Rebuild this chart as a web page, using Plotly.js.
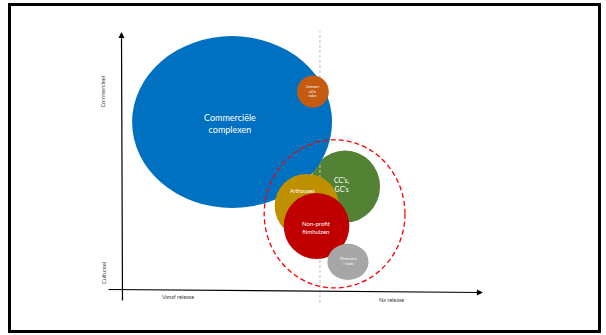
<!DOCTYPE html>
<html>
<head>
<meta charset="utf-8">
<script src="https://cdn.plot.ly/plotly-3.0.1.min.js"></script>
<style>
  html, body { margin: 0; padding: 0; background: #ffffff; }
  #chart { width: 606px; height: 335px; }
</style>
</head>
<body>
<div id="chart"></div>
<script>
// positie op de as: x = 0 (vanaf release) .. 100 (na release), y = 0 (cultureel) .. 100 (commercieel)
const names = ['Commerciële<br>complexen', 'Commer<br>ciële<br>zalen', "CC's,<br>GC's", 'Arthouses', 'Non-profit<br>filmhuizen', 'Filmhuizen<br>/ clubs'];
const xCenter = [30.5, 52.9, 61.8, 51.2, 53.9, 62.6];
const yCenter = [65.1, 76.9, 40.1, 32.6, 24.8, 10.9];
const xRadius = [27.7, 4.4, 9.7, 8.9, 9.1, 5.7];
const yRadius = [33.3, 6.2, 14.0, 12.4, 12.8, 7.0];
const labelX = [29.8, 52.9, 60.9, 50.1, 53.9, 62.8];
const labelY = [64.7, 76.9, 40.7, 38.4, 24.4, 10.9];

// groep non-profit (rode stippellijn)
const groupX = 58.9, groupY = 29.5, groupRx = 19.5, groupRy = 28.7;
const splitX = 54.85;   // grens vanaf / na release

const axisLabels = ['Commercieel', 'Cultureel', 'Vanaf release', 'Na release'];

const colors = ['#0070C0', '#C55A11', '#548235', '#BF9000', '#C00000', '#A6A6A6'];
const fontSizes = [9, 3.5, 7, 5.5, 6, 3.5];

// tekenvolgorde: groen, stippellijn, dan de rest
const drawOrder = [2, 0, 1, 3, 4, 5];

const shapes = [];
const annotations = [];

drawOrder.forEach((i, k) => {
  shapes.push({
    type: 'circle', xref: 'x', yref: 'y',
    x0: xCenter[i] - xRadius[i], x1: xCenter[i] + xRadius[i],
    y0: yCenter[i] - yRadius[i], y1: yCenter[i] + yRadius[i],
    fillcolor: colors[i], line: { width: 0 }, layer: 'above'
  });
  if (k === 0) {
    shapes.push({
      type: 'line', xref: 'x', yref: 'y',
      x0: splitX, x1: splitX, y0: -5, y1: 100.4,
      line: { color: '#BFBFBF', width: 1, dash: '3px,2px' }, layer: 'above'
    });
  }
});

names.forEach((n, i) => {
  annotations.push({
    x: labelX[i], y: labelY[i], xref: 'x', yref: 'y',
    text: n, showarrow: false,
    font: { family: 'Lato, sans-serif', size: fontSizes[i], color: '#FFFFFF' },
    align: 'center'
  });
});

shapes.push({
  type: 'circle', xref: 'x', yref: 'y',
  x0: groupX - groupRx, x1: groupX + groupRx,
  y0: groupY - groupRy, y1: groupY + groupRy,
  line: { color: '#FF0000', width: 1.3, dash: '5px,3px' }, layer: 'above'
});

// kader
shapes.push({
  type: 'rect', xref: 'paper', yref: 'paper',
  x0: 9.5 / 606, x1: 599.5 / 606, y0: 1 - 331.5 / 335, y1: 1 - 4.5 / 335,
  line: { color: '#000000', width: 3 }, layer: 'above'
});

// assen met pijlen
annotations.push({
  x: -0.14, y: 100, ax: 0.14, ay: -4.65, xref: 'x', yref: 'y', axref: 'x', ayref: 'y',
  text: '', showarrow: true, arrowhead: 2, arrowsize: 1, arrowwidth: 1.2, arrowcolor: '#000000'
});
annotations.push({
  x: 100, y: -0.97, ax: -4.16, ay: 0.19, xref: 'x', yref: 'y', axref: 'x', ayref: 'y',
  text: '', showarrow: true, arrowhead: 2, arrowsize: 1, arrowwidth: 1.2, arrowcolor: '#000000'
});

const axFont = { family: 'Lato, sans-serif', size: 5.5, color: '#404040' };
annotations.push({ x: -5.2, y: 77, xref: 'x', yref: 'y', text: axisLabels[0], showarrow: false, textangle: -90, font: axFont });
annotations.push({ x: -5.0, y: 6.6, xref: 'x', yref: 'y', text: axisLabels[1], showarrow: false, textangle: -90, font: axFont });
annotations.push({ x: 15.5, y: -2.7, xref: 'x', yref: 'y', text: axisLabels[2], showarrow: false, font: axFont });
annotations.push({ x: 74.8, y: -3.9, xref: 'x', yref: 'y', text: axisLabels[3], showarrow: false, font: axFont });

const layout = {
  width: 606, height: 335,
  margin: { l: 0, r: 0, t: 0, b: 0 },
  paper_bgcolor: '#FFFFFF', plot_bgcolor: '#FFFFFF',
  xaxis: { range: [-33.8, 134.1], visible: false, showgrid: false, zeroline: false, fixedrange: true },
  yaxis: { range: [-17.44, 112.4], visible: false, showgrid: false, zeroline: false, fixedrange: true },
  shapes: shapes,
  annotations: annotations,
  showlegend: false
};

Plotly.newPlot('chart', [], layout, { displayModeBar: false, staticPlot: true });
</script>
</body>
</html>
